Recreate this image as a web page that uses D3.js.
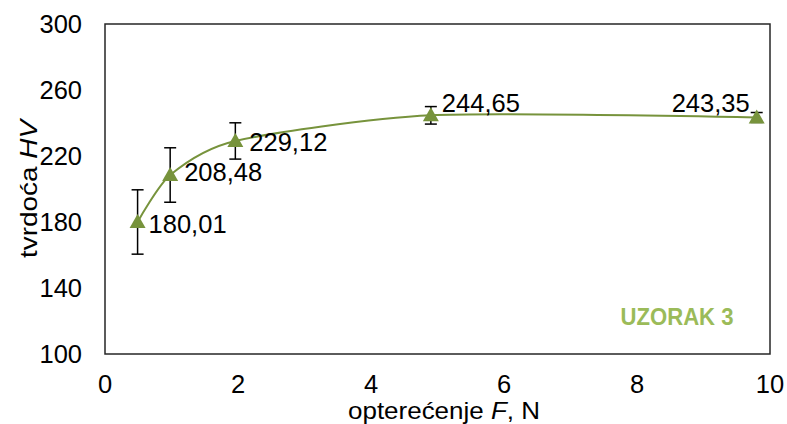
<!DOCTYPE html>
<html><head><meta charset="utf-8">
<script src="https://cdn.jsdelivr.net/npm/d3@7/dist/d3.min.js"></script>
<style>body{margin:0;background:#fff}svg{display:block}text{font-family:"Liberation Sans",Arial,sans-serif}</style>
</head><body><svg id="c" width="787" height="424"></svg>
<script>
const loads = [0.49, 0.98, 1.96, 4.9, 9.8];
const hardness = [180.01, 208.48, 229.12, 244.65, 243.35];
const errors = [19.5, 16.5, 11, 5.3, 3];
const labels = ["180,01", "208,48", "229,12", "244,65", "243,35"];
const xTicks = [0, 2, 4, 6, 8, 10];
const yTicks = [100, 140, 180, 220, 260, 300];

// label placement (layout only): dx, dy from the point, anchor
const labelLayout = [[11, 2, "start"], [14, -3, "start"], [14, 1, "start"], [11, -13, "start"], [-7, -15, "end"]];

const svg = d3.select("#c");
const L = 105, R = 770, T = 24, B = 354;
const x = d3.scaleLinear().domain([0, 10]).range([L, R]);
const y = d3.scaleLinear().domain([100, 300]).range([B, T]);
const green = "#77933C";
const FS = 25.5;

// axis tick labels
svg.append("g").selectAll("text").data(yTicks).join("text")
  .attr("x", 82).attr("y", d => y(d)).attr("dy", "0.36em")
  .attr("text-anchor", "end").attr("font-size", FS).attr("fill", "#000").text(d => d);
svg.append("g").selectAll("text").data(xTicks).join("text")
  .attr("x", d => x(d)).attr("y", 384).attr("dy", "0.36em")
  .attr("text-anchor", "middle").attr("font-size", FS).attr("fill", "#000").text(d => d);

// frame
svg.append("rect").attr("x", L).attr("y", T).attr("width", R - L).attr("height", B - T)
  .attr("fill", "none").attr("stroke", "#262626").attr("stroke-width", 1.5);

// curve
const line = d3.line().x((d, i) => x(loads[i])).y(d => y(d)).curve(d3.curveCardinal.tension(0.3));
svg.append("path").attr("d", line(hardness)).attr("fill", "none").attr("stroke", green).attr("stroke-width", 2);

// error bars
const eb = svg.append("g").attr("stroke", "#000").attr("stroke-width", 1.5);
hardness.forEach((v, i) => {
  const cx = x(loads[i]);
  eb.append("line").attr("x1", cx).attr("x2", cx).attr("y1", y(v - errors[i])).attr("y2", y(v + errors[i]));
  [v - errors[i], v + errors[i]].forEach(e => eb.append("line").attr("x1", cx - 6).attr("x2", cx + 6).attr("y1", y(e)).attr("y2", y(e)));
});

// markers
svg.append("g").selectAll("path").data(hardness).join("path")
  .attr("transform", (d, i) => `translate(${x(loads[i])},${y(d)})`)
  .attr("d", "M0,-8L8,6L-8,6Z").attr("fill", green);

// data labels
svg.append("g").selectAll("text").data(hardness).join("text")
  .attr("x", (d, i) => x(loads[i]) + labelLayout[i][0])
  .attr("y", (d, i) => y(d) + labelLayout[i][1])
  .attr("dy", "0.36em")
  .attr("text-anchor", (d, i) => labelLayout[i][2])
  .attr("font-size", FS).attr("fill", "#000").text((d, i) => labels[i]);

// axis titles
const xt = svg.append("text").attr("x", 444).attr("y", 419)
  .attr("text-anchor", "middle").attr("font-size", 24).attr("fill", "#000")
  .attr("textLength", 192).attr("lengthAdjust", "spacingAndGlyphs");
xt.append("tspan").text("opterećenje ");
xt.append("tspan").attr("font-style", "italic").text("F");
xt.append("tspan").text(", N");

const yt = svg.append("text").attr("transform", "translate(37,189) rotate(-90)")
  .attr("text-anchor", "middle").attr("font-size", 24).attr("fill", "#000")
  .attr("textLength", 138).attr("lengthAdjust", "spacingAndGlyphs");
yt.append("tspan").text("tvrdoća ");
yt.append("tspan").attr("font-style", "italic").text("HV");

svg.append("text").attr("x", 677).attr("y", 316).attr("dy", "0.36em").attr("text-anchor", "middle")
  .attr("font-family", "Lato, 'Open Sans', sans-serif").attr("font-weight", "bold")
  .attr("font-size", 24).attr("fill", "#9BBB59")
  .attr("textLength", 113).attr("lengthAdjust", "spacingAndGlyphs").text("UZORAK 3");
</script></body></html>
